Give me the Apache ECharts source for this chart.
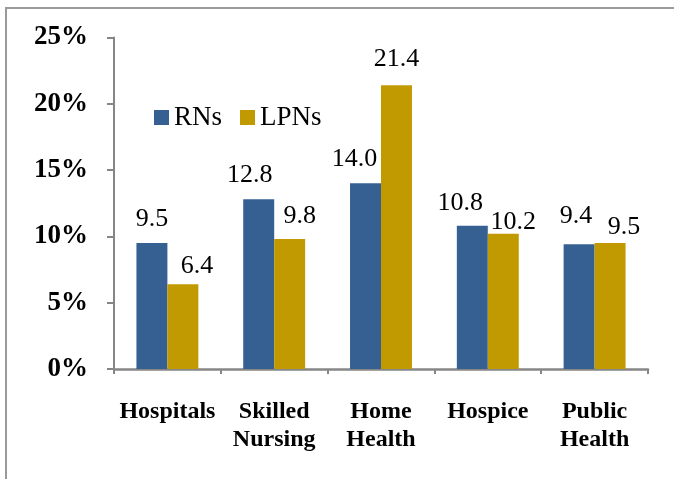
<!DOCTYPE html>
<html>
<head>
<meta charset="utf-8">
<script src="https://cdn.jsdelivr.net/npm/echarts@6/dist/echarts.min.js"></script>
<style>
  html, body { margin: 0; padding: 0; background: #fff; }
  #chart { width: 674px; height: 479px; }
</style>
</head>
<body>
<div id="chart"></div>
<script>
// 数据
const categories = ["Hospitals", "Skilled\nNursing", "Home\nHealth", "Hospice", "Public\nHealth"];
const rnValues = [9.5, 12.8, 14.0, 10.8, 9.4];
const lpnValues = [6.4, 9.8, 21.4, 10.2, 9.5];
const seriesNames = ["RNs", "LPNs"];

const font = "Liberation Serif, Times New Roman, serif";
const axisColor = "#868686";

// 标签微调（Excel 里手动挪过的数据标签）
const rnLabelNudge = [[0, 0], [-9, 0], [-11, 0], [-12, 1], [-3, -4]];
const lpnLabelNudge = [[14, 6], [10, 1], [0, -2], [10, 12], [14, 8]];

const myEcharts = echarts.init(document.getElementById("chart"));

function barSeries(name, data, color, nudge) {
  return {
    name: name,
    type: "bar",
    data: data.map((v, i) => ({ value: v, label: { offset: nudge[i] } })),
    barGap: "0%",
    barCategoryGap: "42%",
    itemStyle: { color: color },
    label: {
      show: true,
      position: "top",
      distance: 11,
      color: "#000",
      fontFamily: font,
      fontSize: 26,
      formatter: (p) => p.value.toFixed(1),
    },
  };
}

const option = {
  animation: false,
  graphic: [
    {
      type: "rect",
      shape: { x: 6, y: 8, width: 1000, height: 1000 },
      style: { fill: "none", stroke: "#9a9a9a", lineWidth: 2 },
    },
  ],
  legend: {
    data: seriesNames,
    left: 154,
    top: 104,
    padding: 0,
    itemWidth: 15,
    itemHeight: 15,
    itemGap: 18,
    icon: "rect",
    textStyle: { fontFamily: font, fontSize: 27, color: "#000" },
  },
  grid: { left: 114, right: 26, top: 37.5, bottom: 110 },
  xAxis: {
    type: "category",
    data: categories,
    axisLine: { lineStyle: { color: axisColor, width: 2.5 } },
    axisTick: { show: true, length: 5, lineStyle: { color: axisColor, width: 2 } },
    axisLabel: {
      interval: 0,
      margin: 29,
      color: "#000",
      fontFamily: font,
      fontWeight: "bold",
      fontSize: 24,
      lineHeight: 28,
    },
  },
  yAxis: {
    type: "value",
    min: 0,
    max: 25,
    interval: 5,
    splitLine: { show: false },
    axisLine: { show: true, lineStyle: { color: axisColor, width: 2 } },
    axisTick: { show: true, length: 7, lineStyle: { color: axisColor, width: 2 } },
    axisLabel: {
      margin: 26,
      formatter: "{value}%",
      color: "#000",
      fontFamily: font,
      fontWeight: "bold",
      fontSize: 27,
    },
  },
  series: [
    barSeries(seriesNames[0], rnValues, "#376092", rnLabelNudge),
    barSeries(seriesNames[1], lpnValues, "#c09a00", lpnLabelNudge),
  ],
};

myEcharts.setOption(option);
</script>
</body>
</html>
